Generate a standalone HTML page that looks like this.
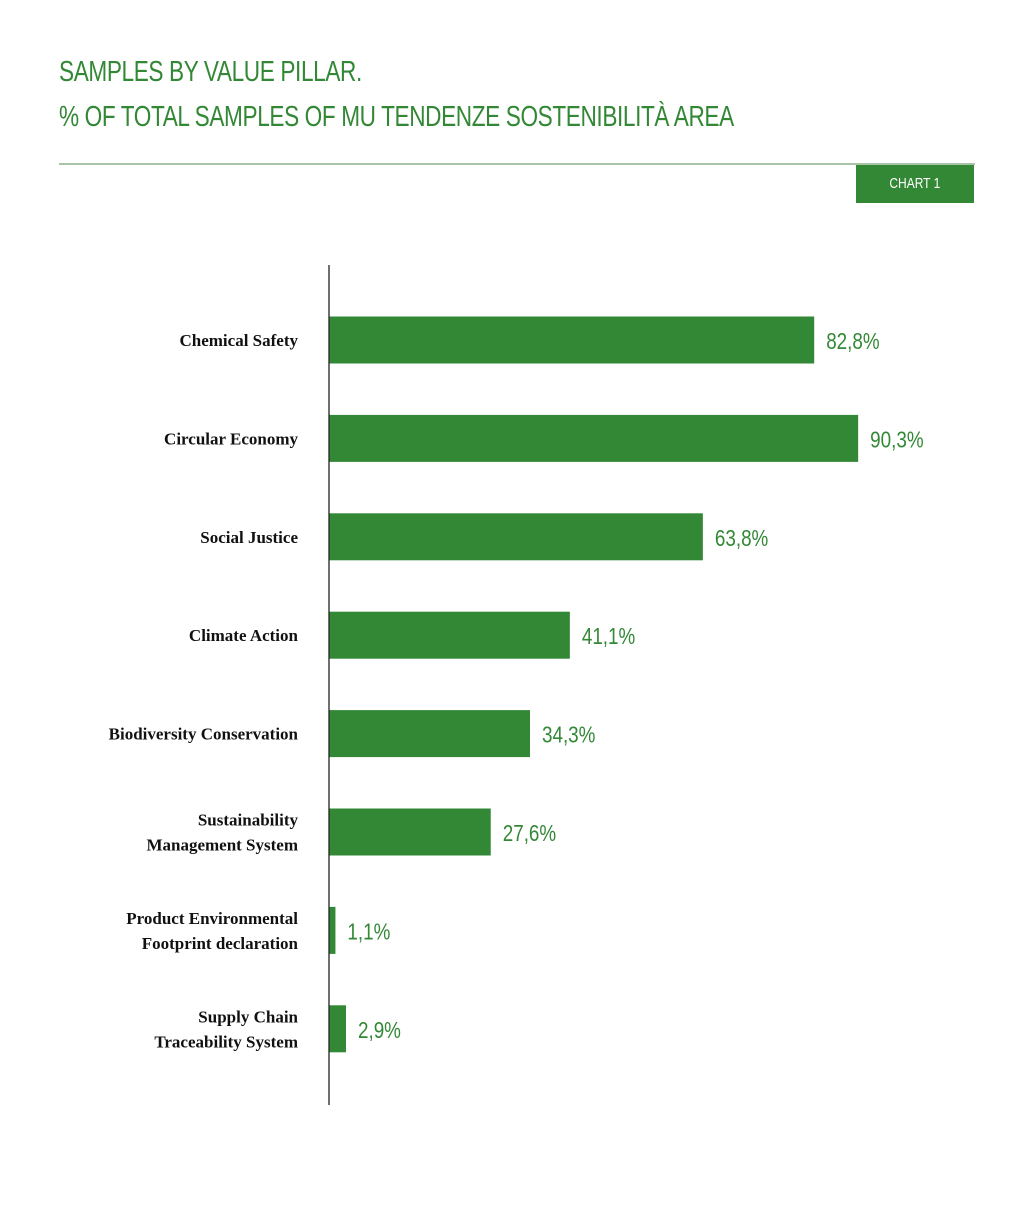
<!DOCTYPE html>
<html><head><meta charset="utf-8"><style>
body{margin:0;background:#fff;width:1033px;height:1211px;overflow:hidden;position:relative}
.t{position:absolute;left:59px;color:#338836;font-family:"Liberation Sans Narrow","Liberation Sans",sans-serif;font-size:29px;letter-spacing:-0.5px;transform:scaleX(0.78);transform-origin:left;white-space:nowrap}
</style></head><body>
<div class="t" style="top:56px">SAMPLES BY VALUE PILLAR.</div>
<div class="t" style="top:101px">% OF TOTAL SAMPLES OF MU TENDENZE SOSTENIBILITÀ AREA</div>
<div style="position:absolute;left:59px;top:163px;width:916px;height:2px;background:#a9c3a6"></div>
<div style="position:absolute;left:856px;top:165px;width:118px;height:38px;background:#338836;color:#fff;font-family:'Liberation Sans Narrow','Liberation Sans',sans-serif;font-size:15px;line-height:38px;text-align:center"><span style="display:inline-block;transform:scaleX(0.8)">CHART 1</span></div>
<svg id="c" width="1033" height="1211" style="position:absolute;left:0;top:0"></svg>
<script>
const categories=[["Chemical Safety"],["Circular Economy"],["Social Justice"],["Climate Action"],["Biodiversity Conservation"],["Sustainability","Management System"],["Product Environmental","Footprint declaration"],["Supply Chain","Traceability System"]];
const values=[82.8,90.3,63.8,41.1,34.3,27.6,1.1,2.9];
const valueLabels=["82,8%","90,3%","63,8%","41,1%","34,3%","27,6%","1,1%","2,9%"];
const ns="http://www.w3.org/2000/svg",svg=document.getElementById("c");
const x0=329,scale=5.86,y0=340,step=98.4,bh=47;
const xs=v=>x0+v*scale, ys=i=>y0+i*step;
function mk(t,a){const e=document.createElementNS(ns,t);for(const k in a)e.setAttribute(k,a[k]);svg.appendChild(e);return e;}
values.forEach((v,i)=>{
  const r=mk("rect",{x:x0,y:ys(i)-bh/2,width:xs(v)-x0,height:bh,fill:"#338836"});
  
  
  const tl=mk("text",{x:xs(v)+12,y:ys(i)+9,fill:"#338836","font-family":"Liberation Sans Narrow, Liberation Sans, sans-serif","font-size":"23",transform:`translate(${xs(v)+12} 0) scale(0.82 1) translate(${-(xs(v)+12)} 0)`});
  tl.textContent=valueLabels[i];
  
  
  const lines=categories[i];
  lines.forEach((ln,j)=>{
    const c=mk("text",{x:298,y:ys(i)+6+(j-(lines.length-1)/2)*25,"text-anchor":"end","font-family":"Liberation Serif, serif","font-weight":"bold","font-size":"17",fill:"#111"});
    c.textContent=ln;
    
    
  });
});
const ax=mk("line",{x1:329,x2:329,y1:265,y2:1105,stroke:"#222","stroke-width":"1.3"});


</script>
</body></html>
